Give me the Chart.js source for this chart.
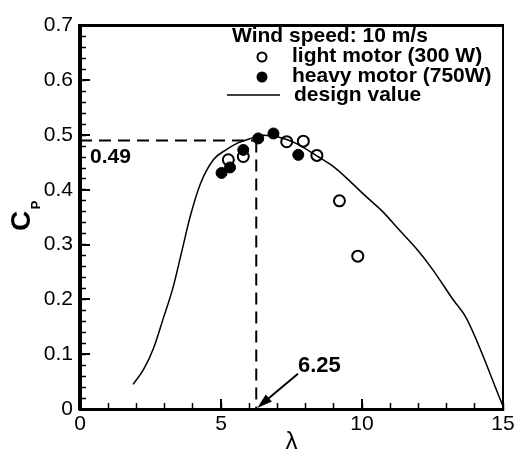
<!DOCTYPE html>
<html>
<head>
<meta charset="utf-8">
<script src="https://cdn.jsdelivr.net/npm/chart.js@4.4.1/dist/chart.umd.min.js"></script>
<style>
  html, body { margin: 0; padding: 0; background: #fff; }
</style>
</head>
<body>
<canvas id="myChart" width="526" height="449"></canvas>
<script>
// design curve
const designLambda = [1.88, 2.25, 2.6, 2.95, 3.3, 3.62, 3.9, 4.26, 4.73, 5.2, 5.6, 6.0, 6.5, 7.0, 7.66, 8.4, 9.0, 9.57, 10.1, 10.76, 11.3, 11.94, 12.5, 13.24, 13.7, 15.0];
const designCp     = [0.045, 0.072, 0.11, 0.165, 0.222, 0.29, 0.35, 0.41, 0.455, 0.474, 0.486, 0.493, 0.5, 0.497, 0.485, 0.462, 0.442, 0.416, 0.39, 0.359, 0.328, 0.292, 0.255, 0.199, 0.166, 0.005];

// measurements
const lightLambda = [5.26, 5.79, 7.33, 7.92, 8.4, 9.2, 9.85];
const lightCp     = [0.455, 0.461, 0.488, 0.489, 0.463, 0.38, 0.279];
const heavyLambda = [5.02, 5.32, 5.79, 6.32, 6.86, 7.74];
const heavyCp     = [0.431, 0.441, 0.473, 0.494, 0.503, 0.464];

const peakLambda = 6.25;
const peakCp = 0.49;

const xTickLabels = ['0', '5', '10', '15'];
const yTickLabels = ['0', '0.1', '0.2', '0.3', '0.4', '0.5', '0.6', '0.7'];

const pts = (xs, ys) => xs.map((x, i) => ({x: x, y: ys[i]}));

const FONT = "'Liberation Sans', Arial, sans-serif";

function seg(g, x1, y1, x2, y2) {
  g.beginPath(); g.moveTo(x1, y1); g.lineTo(x2, y2); g.stroke();
}

// longer major ticks on top of the native ones
const majorTicks = {
  id: 'majorTicks',
  afterDraw(chart) {
    const g = chart.ctx;
    const xs = chart.scales.x, ys = chart.scales.y;
    g.save();
    g.fillStyle = '#000';
    for (let i = 0; i < yTickLabels.length; i++) {
      const py = Math.round(ys.getPixelForValue(i / 10));
      g.fillRect(xs.left, py - 1, 10, 2);
    }
    for (let i = 0; i < xTickLabels.length; i++) {
      const px = Math.round(xs.getPixelForValue(i * 5));
      g.fillRect(px - 1, ys.bottom - 10, 2, 10);
    }
    g.restore();
  }
};

// annotations, legend, y title
const extras = {
  id: 'extras',
  afterDraw(chart) {
    const g = chart.ctx;
    const xs = chart.scales.x, ys = chart.scales.y;
    g.save();
    g.setLineDash([]);
    g.strokeStyle = '#000';
    g.fillStyle = '#000';

    g.font = 'bold 21px ' + FONT;
    g.textAlign = 'left';
    g.textBaseline = 'alphabetic';
    g.fillText('0.49', xs.getPixelForValue(0) + 10, ys.getPixelForValue(peakCp) + 22);

    g.font = 'bold 22px ' + FONT;
    const tx = xs.getPixelForValue(7.73), ty = ys.getPixelForValue(0.066);
    g.fillText('6.25', tx, ty - 1);
    const hx = xs.getPixelForValue(peakLambda) + 1, hy = ys.getPixelForValue(0) - 1;
    const ang = Math.atan2(hy - ty, hx - tx);
    g.lineWidth = 2;
    seg(g, tx, ty + 1, hx - 10 * Math.cos(ang), hy - 10 * Math.sin(ang));
    g.beginPath();
    g.moveTo(hx, hy);
    g.lineTo(hx - 16 * Math.cos(ang - 0.3), hy - 16 * Math.sin(ang - 0.3));
    g.lineTo(hx - 16 * Math.cos(ang + 0.3), hy - 16 * Math.sin(ang + 0.3));
    g.closePath(); g.fill();

    g.font = 'bold 21px ' + FONT;
    g.fillText('Wind speed: 10 m/s', 232, 42);
    g.fillText('light motor (300 W)', 292, 62);
    g.fillText('heavy motor (750W)', 292, 82);
    g.fillText('design value', 294, 101);
    g.lineWidth = 2;
    g.beginPath(); g.arc(262, 57, 4.5, 0, Math.PI * 2); g.stroke();
    g.beginPath(); g.arc(262, 77, 5.5, 0, Math.PI * 2); g.fill();
    g.lineWidth = 1.5;
    seg(g, 227, 95, 280, 95);

    g.translate(22, 221);
    g.rotate(-Math.PI / 2);
    g.textAlign = 'center';
    g.textBaseline = 'middle';
    g.font = 'bold 28px ' + FONT;
    g.fillText('C', 0, 0);
    g.font = 'bold 13px ' + FONT;
    g.fillText('P', 16, 14);
    g.restore();
  }
};

const inwardGrid = { display: true, drawOnChartArea: false, drawTicks: true, tickLength: -6, tickWidth: 1.5, tickColor: '#000' };

const ctx = document.getElementById('myChart').getContext('2d');
const myChart = new Chart(ctx, {
  type: 'scatter',
  data: {
    datasets: [
      {
        label: 'heavy motor (750W)',
        data: pts(heavyLambda, heavyCp),
        backgroundColor: '#000',
        borderColor: '#000',
        pointRadius: 5.5,
        borderWidth: 1,
        order: 1
      },
      {
        label: 'light motor (300 W)',
        data: pts(lightLambda, lightCp),
        backgroundColor: 'rgba(255,255,255,0)',
        borderColor: '#000',
        pointRadius: 5.5,
        borderWidth: 2,
        order: 2
      },
      {
        label: 'design value',
        type: 'line',
        data: pts(designLambda, designCp),
        borderColor: '#000',
        borderWidth: 1.5,
        pointRadius: 0,
        cubicInterpolationMode: 'monotone',
        order: 3
      },
      {
        label: 'peak h',
        type: 'line',
        data: pts([0, peakLambda], [peakCp, peakCp]),
        borderColor: '#000',
        borderWidth: 2,
        borderDash: [12, 7],
        pointRadius: 0,
        order: 4
      },
      {
        label: 'peak v',
        type: 'line',
        data: pts([peakLambda, peakLambda], [peakCp, 0]),
        borderColor: '#000',
        borderWidth: 2,
        borderDash: [12, 7],
        pointRadius: 0,
        order: 4
      }
    ]
  },
  options: {
    responsive: false,
    animation: false,
    devicePixelRatio: 1,
    layout: { padding: { top: 15, right: 23, left: 0, bottom: 0 } },
    plugins: {
      legend: { display: false },
      tooltip: { enabled: false }
    },
    scales: {
      x: {
        type: 'linear',
        position: 'bottom',
        min: 0, max: 15,
        grid: inwardGrid,
        border: { display: true, color: '#000', width: 3 },
        ticks: {
          stepSize: 1,
          maxTicksLimit: 1000,
          autoSkip: false,
          maxRotation: 0,
          padding: 9,
          color: '#000',
          font: { family: FONT, size: 21 },
          callback: v => (v % 5 === 0 ? xTickLabels[v / 5] : '')
        },
        title: {
          display: true,
          text: 'λ',
          color: '#000',
          padding: { top: 0, bottom: -8 },
          font: { family: FONT, size: 24 }
        },
        afterFit: s => { s.height = 40; }
      },
      y: {
        position: 'left',
        min: 0, max: 0.7,
        grid: inwardGrid,
        border: { display: true, color: '#000', width: 4 },
        ticks: {
          stepSize: 0.02,
          maxTicksLimit: 1000,
          autoSkip: false,
          padding: 13,
          color: '#000',
          font: { family: FONT, size: 21 },
          callback: v => {
            const k = Math.round(v * 10);
            return Math.abs(v - k / 10) < 1e-6 ? yTickLabels[k] : '';
          }
        },
        afterFit: s => { s.width = 80; }
      },
      x2: {
        type: 'linear',
        position: 'top',
        display: true,
        min: 0, max: 15,
        grid: { display: false, drawTicks: false },
        border: { display: true, color: '#000', width: 3 },
        ticks: { display: false },
        afterFit: s => { s.height = 0; }
      },
      y2: {
        type: 'linear',
        position: 'right',
        display: true,
        min: 0, max: 0.7,
        grid: { display: false, drawTicks: false },
        border: { display: true, color: '#000', width: 2 },
        ticks: { display: false },
        afterFit: s => { s.width = 0; }
      }
    }
  },
  plugins: [majorTicks, extras]
});
</script>
</body>
</html>
